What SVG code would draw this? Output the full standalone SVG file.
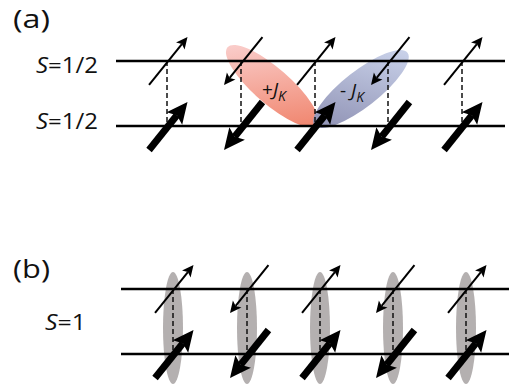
<svg xmlns="http://www.w3.org/2000/svg" width="513" height="391" viewBox="0 0 513 391">
  <defs>
    <style>
      .lbl{font-family:"Open Sans","Liberation Sans",sans-serif;fill:#111}
      .it{font-style:italic}
      .chain{stroke:#000;stroke-width:2.4;fill:none}
      .rung{stroke:#111;stroke-width:1.5;stroke-dasharray:5 3;fill:none}
      .pair{fill:#b4b0b0}
    </style>
    <linearGradient id="gPlus" gradientUnits="userSpaceOnUse" x1="228" y1="48" x2="316" y2="124">
      <stop offset="0" stop-color="#fbd6d6"/>
      <stop offset="1" stop-color="#ef7c62"/>
    </linearGradient>
    <linearGradient id="gMinus" gradientUnits="userSpaceOnUse" x1="407" y1="53" x2="315" y2="125">
      <stop offset="0" stop-color="#cfd8ef"/>
      <stop offset="1" stop-color="#8a8caf"/>
    </linearGradient>
    <!-- spin arrows: tip at origin, pointing along +x -->
    <g id="thin">
      <line x1="-61.5" y1="0" x2="-9" y2="0" stroke="#000" stroke-width="2"/>
      <path d="M0,0 L-11.5,-5.5 L-9,0 L-11.5,5.5Z" fill="#000"/>
    </g>
    <g id="bold">
      <line x1="-61.5" y1="0" x2="-17" y2="0" stroke="#000" stroke-width="7"/>
      <path d="M0,0 L-21,-10 L-17,0 L-21,10Z" fill="#000"/>
    </g>
  </defs>

  <rect width="513" height="391" fill="#fff"/>

  <!-- panel labels -->
  <text class="lbl" x="13" y="28" font-size="26" textLength="37" lengthAdjust="spacingAndGlyphs">(a)</text>
  <text class="lbl" x="13" y="278" font-size="26" textLength="37" lengthAdjust="spacingAndGlyphs">(b)</text>
  <text class="lbl" x="36" y="73" font-size="21" textLength="62" lengthAdjust="spacingAndGlyphs"><tspan class="it">S</tspan>=1/2</text>
  <text class="lbl" x="36" y="129" font-size="21" textLength="62" lengthAdjust="spacingAndGlyphs"><tspan class="it">S</tspan>=1/2</text>
  <text class="lbl" x="45" y="330" font-size="21" textLength="41" lengthAdjust="spacingAndGlyphs"><tspan class="it">S</tspan>=1</text>

  <!-- Kondo couplings -->
  <g id="coupling-plus">
    <ellipse cx="272" cy="86" rx="59" ry="18" transform="rotate(41 272 86)" fill="url(#gPlus)"/>
    <text class="lbl" x="262" y="96" font-size="19">+<tspan class="it">J</tspan><tspan class="it" font-size="14" dy="5">K</tspan></text>
  </g>
  <g id="coupling-minus">
    <ellipse cx="361" cy="89" rx="59" ry="18" transform="rotate(-38 361 89)" fill="url(#gMinus)"/>
    <text class="lbl" x="340" y="97" font-size="19">- <tspan class="it">J</tspan><tspan class="it" font-size="14" dy="5">K</tspan></text>
  </g>

  <!-- S=1 pairs -->
  <g id="pairs">
    <ellipse class="pair" cx="173" cy="328" rx="10" ry="56"/>
    <ellipse class="pair" cx="247" cy="328" rx="10" ry="56"/>
    <ellipse class="pair" cx="320" cy="328" rx="10" ry="56"/>
    <ellipse class="pair" cx="393" cy="328" rx="10" ry="56"/>
    <ellipse class="pair" cx="466" cy="328" rx="10" ry="56"/>
  </g>

  <!-- chains and rungs -->
  <g id="connectors">
    <line class="chain" x1="116" y1="61" x2="505" y2="61"/>
    <line class="chain" x1="116" y1="126" x2="505" y2="126"/>
    <line class="chain" x1="121" y1="289" x2="509" y2="289"/>
    <line class="chain" x1="121" y1="354" x2="509" y2="354"/>
    <line class="rung" x1="167" y1="61" x2="167" y2="126"/>
    <line class="rung" x1="241" y1="61" x2="241" y2="126"/>
    <line class="rung" x1="315" y1="61" x2="315" y2="126"/>
    <line class="rung" x1="388" y1="61" x2="388" y2="126"/>
    <line class="rung" x1="462" y1="61" x2="462" y2="126"/>
    <line class="rung" x1="173" y1="289" x2="173" y2="354"/>
    <line class="rung" x1="247" y1="289" x2="247" y2="354"/>
    <line class="rung" x1="320" y1="289" x2="320" y2="354"/>
    <line class="rung" x1="393" y1="289" x2="393" y2="354"/>
    <line class="rung" x1="466" y1="289" x2="466" y2="354"/>
  </g>

  <!-- spins, panel a -->
  <g id="a-site1">
    <use href="#thin" transform="translate(187.5 37) rotate(-51.3)"/>
    <use href="#bold" transform="translate(187.5 102) rotate(-51.3)"/>
  </g>
  <g id="a-site2">
    <use href="#thin" transform="translate(224 85) rotate(128.7)"/>
    <use href="#bold" transform="translate(224 150) rotate(128.7)"/>
  </g>
  <g id="a-site3">
    <use href="#thin" transform="translate(335.5 37) rotate(-51.3)"/>
    <use href="#bold" transform="translate(335.5 102) rotate(-51.3)"/>
  </g>
  <g id="a-site4">
    <use href="#thin" transform="translate(371 85) rotate(128.7)"/>
    <use href="#bold" transform="translate(371 150) rotate(128.7)"/>
  </g>
  <g id="a-site5">
    <use href="#thin" transform="translate(482.5 37) rotate(-51.3)"/>
    <use href="#bold" transform="translate(482.5 102) rotate(-51.3)"/>
  </g>

  <!-- spins, panel b -->
  <g id="b-site1">
    <use href="#thin" transform="translate(193.5 265) rotate(-51.3)"/>
    <use href="#bold" transform="translate(193.5 330) rotate(-51.3)"/>
  </g>
  <g id="b-site2">
    <use href="#thin" transform="translate(230 313) rotate(128.7)"/>
    <use href="#bold" transform="translate(230 378) rotate(128.7)"/>
  </g>
  <g id="b-site3">
    <use href="#thin" transform="translate(340.5 265) rotate(-51.3)"/>
    <use href="#bold" transform="translate(340.5 330) rotate(-51.3)"/>
  </g>
  <g id="b-site4">
    <use href="#thin" transform="translate(376 313) rotate(128.7)"/>
    <use href="#bold" transform="translate(376 378) rotate(128.7)"/>
  </g>
  <g id="b-site5">
    <use href="#thin" transform="translate(486.5 265) rotate(-51.3)"/>
    <use href="#bold" transform="translate(486.5 330) rotate(-51.3)"/>
  </g>
</svg>
